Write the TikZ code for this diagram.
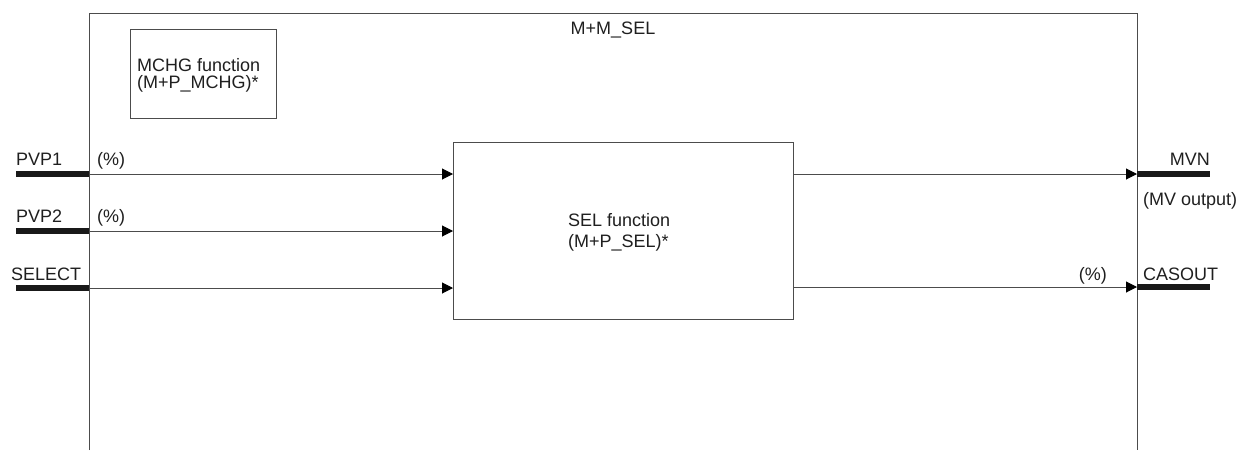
\documentclass[tikz,border=0pt]{standalone}
\usepackage{fontspec}
\setmainfont{Liberation Sans}
\usetikzlibrary{arrows.meta}
\begin{document}
\begin{tikzpicture}[x=1pt,y=-1pt,
  line/.style={draw=black!70,line width=1pt},
  sig/.style={line,-{Triangle[length=11pt,width=11pt,black]}},
  bar/.style={draw=black!90,line width=6.5pt},
  lbl/.style={inner sep=0pt,font=\fontsize{18}{21}\selectfont,text=black!88},
  fbox/.style={line,fill=white,inner sep=0pt}]
\useasboundingbox (0,0) rectangle (1242,450);
% frame (open at the bottom)
\coordinate (fbl) at (89,450);
\coordinate (ftl) at (89,13);
\coordinate (ftr) at (1137,13);
\coordinate (fbr) at (1137,450);
\draw[line] (fbl) -- (ftl) -- (ftr) -- (fbr);
\node[lbl,anchor=base] (title) at (613,34) {M+M\_SEL};
% MCHG box
\node[fbox,minimum width=146pt,minimum height=89pt,anchor=north west] (mchg) at (130,29) {};
\node[lbl,align=left,anchor=base west,font=\fontsize{18}{17}\selectfont] (mchgt) at (137,88) {MCHG function\\(M+P\_MCHG)*};
% SEL box
\node[fbox,minimum width=340pt,minimum height=177pt,anchor=north west] (sel) at (453,142) {};
\node[lbl,align=left,anchor=base west] (selt) at (568,247) {SEL function\\(M+P\_SEL)*};
% inputs
\coordinate (i1) at (16,174); \coordinate (j1) at (89,174); \coordinate (k1) at (453,174);
\coordinate (i2) at (16,231); \coordinate (j2) at (89,231); \coordinate (k2) at (453,231);
\coordinate (i3) at (16,288); \coordinate (j3) at (89,288); \coordinate (k3) at (453,288);
\draw[bar] (i1) -- (j1);
\draw[bar] (i2) -- (j2);
\draw[bar] (i3) -- (j3);
\draw[sig] (j1) -- (k1);
\draw[sig] (j2) -- (k2);
\draw[sig] (j3) -- (k3);
\node[lbl,anchor=base west] (pvp1) at (16,165) {PVP1};
\node[lbl,anchor=base west] (pvp2) at (16,222) {PVP2};
\node[lbl,anchor=base west] (selin) at (11,280) {SELECT};
\node[lbl,anchor=base west] (p1) at (97,165) {(\%)};
\node[lbl,anchor=base west] (p2) at (97,222) {(\%)};
% outputs
\coordinate (o1) at (793,174); \coordinate (q1) at (1137,174); \coordinate (r1) at (1210,174);
\coordinate (o2) at (793,287); \coordinate (q2) at (1137,287); \coordinate (r2) at (1210,287);
\draw[bar] (q1) -- (r1);
\draw[bar] (q2) -- (r2);
\draw[sig] (o1) -- (q1);
\draw[sig] (o2) -- (q2);
\node[lbl,anchor=base east] (mvn) at (1210,165) {MVN};
\node[lbl,anchor=base west] (mvo) at (1143,205) {(MV output)};
\node[lbl,anchor=base west] (cas) at (1143,280) {CASOUT};
\node[lbl,anchor=base east] (p3) at (1107,280) {(\%)};
\end{tikzpicture}
\end{document}
